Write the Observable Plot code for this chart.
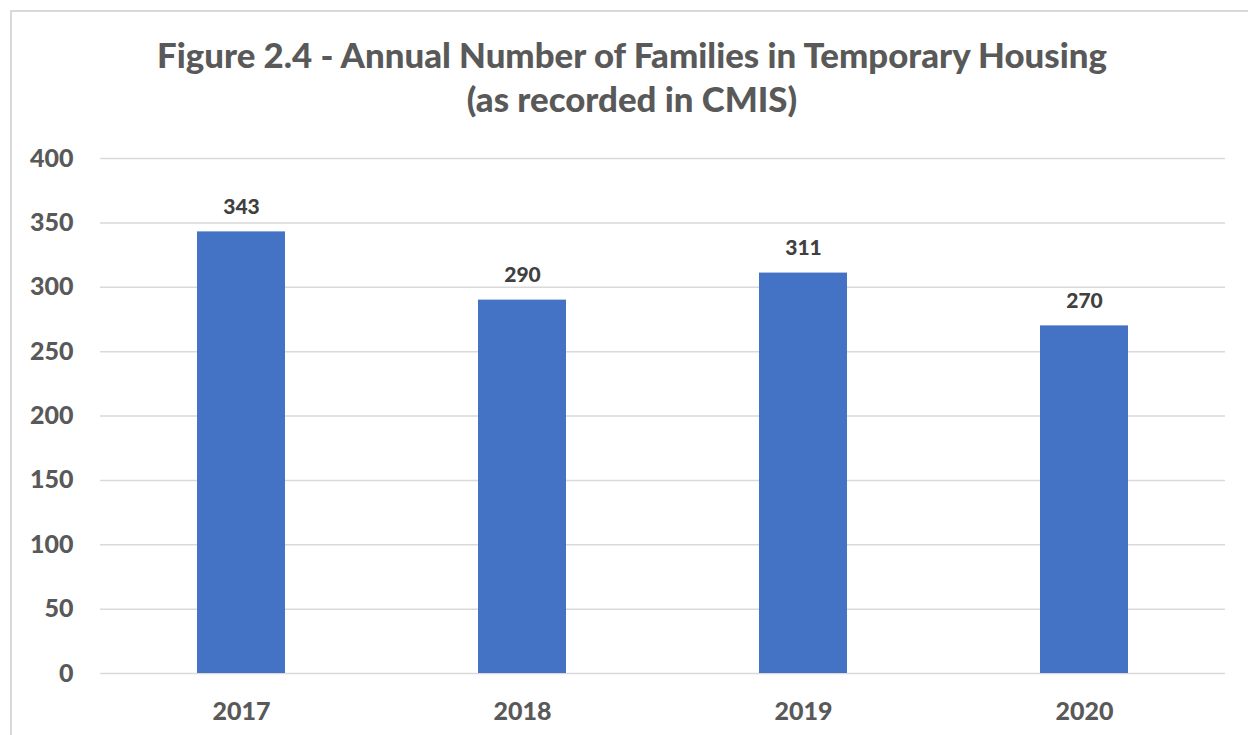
<!DOCTYPE html>
<html>
<head>
<meta charset="utf-8">
<script src="https://cdn.jsdelivr.net/npm/d3@7"></script>
<script src="https://cdn.jsdelivr.net/npm/@observablehq/plot@0.6"></script>
<style>
  html, body { margin: 0; padding: 0; background: #fff; }
  body { width: 1248px; height: 735px; position: relative; overflow: hidden; font-family: Lato, "Open Sans", sans-serif; }
  #frame { position: absolute; left: 10px; top: 10px; width: 1260px; height: 760px; border-left: 2px solid #d9d9d9; border-top: 2px solid #d9d9d9; }
  #title { position: absolute; left: 0; width: 1264px; top: 33px; text-align: center; color: #595959; font-weight: 900; font-size: 34.8px; line-height: 44px; }
  #chart { position: absolute; left: 0; top: 125px; }
</style>
</head>
<body>
<div id="frame"></div>
<div id="title">Figure 2.4 - Annual Number of Families in Temporary Housing<br>(as recorded in CMIS)</div>
<div id="chart"></div>
<script>
const years = ["2017", "2018", "2019", "2020"];
const families = [343, 290, 311, 270];
const yTicks = [0, 50, 100, 150, 200, 250, 300, 350, 400];

const data = years.map((y, i) => ({year: y, value: families[i]}));

const chart = Plot.plot({
  width: 1248,
  height: 608,
  marginLeft: 100,
  marginRight: 23,
  marginTop: 33,
  marginBottom: 60,
  style: {fontFamily: "Lato, 'Open Sans', sans-serif", background: "transparent"},
  x: {domain: years, paddingInner: 0.687, paddingOuter: 0.3435, label: null},
  y: {domain: [0, 400], label: null},
  marks: [
    Plot.gridY(yTicks, {stroke: "#d9d9d9", strokeOpacity: 1, strokeWidth: 1.5}),
    Plot.barY(data, {x: "year", y: "value", fill: "#4472C4"}),
    Plot.text(data, {x: "year", y: "value", text: d => String(d.value), dy: -25, fill: "#404040", fontSize: 21, fontWeight: 900}),
    Plot.axisY(yTicks, {tickSize: 0, tickPadding: 27, fontSize: 25, fontWeight: 900, fill: "#595959", label: null}),
    Plot.axisX({tickSize: 0, tickPadding: 29, fontSize: 25, fontWeight: 900, fill: "#595959", label: null})
  ]
});
document.getElementById("chart").appendChild(chart);
</script>
</body>
</html>
